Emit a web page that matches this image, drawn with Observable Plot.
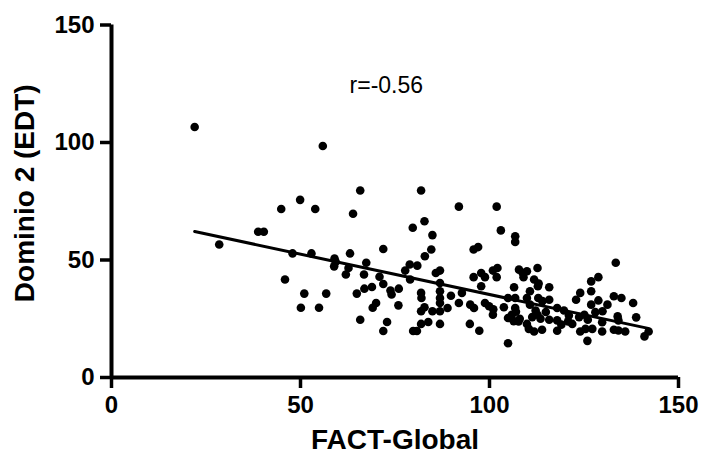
<!DOCTYPE html>
<html>
<head>
<meta charset="utf-8">
<script src="https://cdn.jsdelivr.net/npm/d3@7"></script>
<script src="https://cdn.jsdelivr.net/npm/@observablehq/plot@0.6"></script>
<style>
  html, body { margin: 0; padding: 0; background: #fff; }
  #chart { width: 703px; height: 457px; }
  #chart svg text.ticklab { font-weight: 700 !important; font-family: 'Liberation Sans', Arial, sans-serif !important; }
  #chart svg path.tickmark { stroke-width: 3.5px !important; stroke: #000 !important; }
</style>
</head>
<body>
<div id="chart"></div>
<script>
// FACT-Global (x) and Dominio 2 (EDT) (y) values
const factGlobal = [
  22, 28.5, 38.8, 40.3, 44.9, 45.9, 47.9, 49.9, 50.1, 51, 52.9, 53.9, 54.9, 55.9, 56.8,
  59, 58.9, 59.3, 62, 62.7, 63.1, 63.9, 64.9, 65.8, 65.8, 66.8, 67.4, 66.9, 68.9, 69.1,
  70, 70.9, 71.9, 71.9, 71.9, 72.9, 73.8, 74.1, 76, 75.9, 77.7, 78.9, 79, 79.7, 79.8,
  80.8, 80.9, 81.9, 81.9, 82, 81.9, 81.9, 82.8, 82.8, 82.9, 83.8, 84.6, 84.9, 84.9, 85.8,
  86.9, 86.9, 86.9, 86.9, 86.9, 86.9, 86.9, 88.9, 89.8, 91.9, 91.9, 92.7, 94.8, 94.9, 95.9,
  95.8, 95.8, 97, 97.3, 97.8, 97.8, 98.8, 98.8, 99.9, 100.9, 100.9, 101.9, 102.1, 101.9, 103,
  103.8, 104.9, 104.9, 104.9, 105.9, 106.5, 106.8, 106.8, 106.8, 106.8, 107.7, 107.8, 108.8, 109, 109.9,
  109.9, 109.9, 110.7, 110.7, 111.8, 111.8, 112.7, 112.8, 112.9, 112.7, 113.9, 114.9, 115.8, 115.8, 115.8,
  117.9, 117.9, 119, 120.8, 122.9, 124, 124, 125.1, 125.9, 126.9, 126.9, 126.9, 126, 128.8, 128.8,
  129.9, 131.2, 129.8, 132.9, 133.4, 132.9, 133.9, 134.9, 135.9, 138, 138.8, 141, 142.1,
  101, 107, 106.4, 108, 110.4, 113, 114, 112.2, 119.7, 111.3, 113.5, 117.9, 121, 123.7, 128,
  121.9, 125.4, 127.2, 129.8, 134.1, 134.1
];
const dominio2 = [
  106.6, 56.6, 62, 62, 71.7, 41.7, 52.8, 75.6, 29.7, 35.7, 52.8, 71.7, 29.7, 98.5, 35.7,
  50.6, 47.3, 49.2, 43.8, 46.6, 52.8, 69.7, 35.7, 79.6, 24.6, 43.8, 48.8, 37.8, 38.5, 29.7,
  31.7, 42.9, 54.7, 39.8, 19.8, 23.6, 37, 35.3, 37.8, 30.7, 45.5, 48.1, 41.7, 63.7, 19.8,
  19.8, 47.6, 79.6, 36, 33.8, 28.2, 22.8, 66.5, 29.9, 51.6, 23.6, 54.5, 60.6, 28.2, 44.5,
  45.5, 40.2, 36.7, 33.8, 31.7, 28.2, 22.8, 29.6, 34.8, 72.7, 31.7, 36, 22.8, 31, 29.6,
  42.7, 54.5, 55.5, 19.9, 38.8, 44.5, 31.7, 42.7, 30.3, 26.7, 45.5, 72.7, 46.6, 42.7, 62.6,
  29.9, 14.6, 33.8, 25.3, 26.7, 38.4, 60.1, 57.7, 33.8, 29.6, 23.9, 45.9, 44.5, 42.7, 45.2,
  33.8, 22.8, 36.7, 31, 41.7, 19.6, 46.6, 38.8, 33.8, 26.7, 20.3, 27.9, 38.4, 33.1, 24.6,
  29.6, 19.9, 22.5, 23.9, 33.1, 36, 19.6, 26.7, 15.6, 40.9, 36.7, 31, 24.6, 42.7, 32.8,
  28.2, 31, 19.6, 34.6, 48.8, 20.3, 26, 33.8, 19.6, 31.7, 25.6, 17.5, 19.6,
  29, 28, 24, 25, 20.7, 40, 32.5, 28.5, 28.5, 25.7, 25, 24.3, 26.4, 25.7, 27.8,
  22.8, 20.7, 20.7, 23.5, 24.3, 20
];
// regression line end points
const lineX = [22, 142];
const lineY = [62.1, 20.9];
// tick labels
const xTicks = [0, 50, 100, 150];
const yTicks = [0, 50, 100, 150];
// texts
const xTitle = "FACT-Global";
const yTitle = "Dominio 2 (EDT)";
const annotation = ["r=-0.56"];
const annotationX = [72.7];
const annotationY = [124];

const points = factGlobal.map((x, i) => ({x, y: dominio2[i]}));
const line = lineX.map((x, i) => ({x, y: lineY[i]}));
const notes = annotation.map((t, i) => ({t, x: annotationX[i], y: annotationY[i]}));

const font = "'Liberation Sans', Arial, Helvetica, sans-serif";

const chart = Plot.plot({
  width: 703,
  height: 457,
  marginLeft: 111,
  marginRight: 25,
  marginTop: 24.5,
  marginBottom: 80,
  style: {fontFamily: font, background: "#fff", color: "#000"},
  x: {domain: [0, 150]},
  y: {domain: [0, 150]},
  marks: [
    Plot.ruleX([0], {y1: 0, y2: 150, stroke: "#000", strokeWidth: 4}),
    Plot.ruleY([0], {x1: 0, x2: 150, stroke: "#000", strokeWidth: 4}),
    Plot.axisX({ticks: xTicks, tickSize: 11, tickPadding: 7, strokeWidth: 3.5, fontSize: 24, fontWeight: "bold", label: null, tickFormat: d => String(d)}),
    Plot.axisY({ticks: yTicks, tickSize: 11, tickPadding: 6, strokeWidth: 3.5, fontSize: 24, fontWeight: "bold", label: null, tickFormat: d => String(d)}),
    Plot.dot(points, {x: "x", y: "y", r: 4.3, fill: "#000", stroke: null}),
    Plot.line(line, {x: "x", y: "y", stroke: "#000", strokeWidth: 3}),
    Plot.text(notes, {x: "x", y: "y", text: "t", fontSize: 23, fill: "#000"}),
    Plot.text([xTitle], {frameAnchor: "bottom", lineAnchor: "middle", textAnchor: "middle", dy: 63, fontSize: 28, fontWeight: "bold", fill: "#000"}),
    Plot.text([yTitle], {frameAnchor: "left", lineAnchor: "middle", textAnchor: "middle", rotate: -90, dx: -86, dy: -8, fontSize: 28, fontWeight: "bold", fill: "#000"})
  ]
});
// heavy tick marks and bold tick labels, as in the reference
const sel = d3.select(chart);
sel.selectAll('[aria-label="x-axis tick"] path, [aria-label="y-axis tick"] path').classed("tickmark", true);
sel.selectAll('[aria-label="x-axis tick label"] text, [aria-label="y-axis tick label"] text').classed("ticklab", true);
document.getElementById("chart").appendChild(chart);
</script>
</body>
</html>
